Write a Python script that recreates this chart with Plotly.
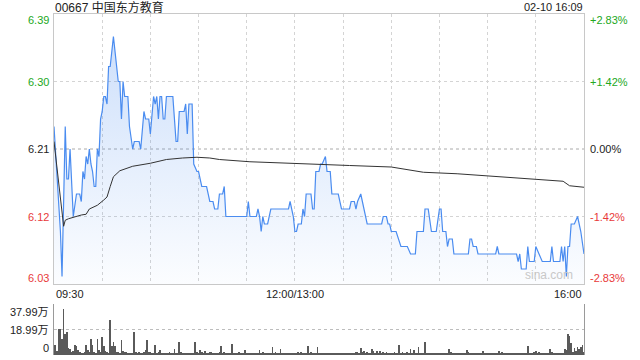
import plotly.graph_objects as go

# ---------------- data ----------------
title_text = "00667 中国东方教育"
stamp_text = "02-10 16:09"
prev_close = 6.21

price_ticks = [6.03, 6.12, 6.21, 6.30, 6.39]
price_tick_text = ["6.03", "6.12", "6.21", "6.30", "6.39"]
pct_tick_text = ["-2.83%", "-1.42%", "0.00%", "+1.42%", "+2.83%"]

time_tick_minutes = [0, 150, 330]
time_tick_labels = ["09:30", "12:00/13:00", "16:00"]
grid_minutes = [0, 30, 60, 90, 120, 150, 180, 210, 240, 270, 300, 330]

price_minutes = [0, 4, 5, 7, 8, 9, 10, 11, 12, 14, 16, 17, 18, 19, 20, 21, 22, 23, 24, 25,
                 26, 27, 28, 29, 30, 31, 32, 33, 34, 35, 37, 39, 40, 41, 42, 43, 44, 46, 47, 49,
                 50, 53, 54, 56, 57, 59, 60, 62, 63, 64, 65, 66, 67, 68, 69, 70, 74, 75, 76, 77,
                 78, 80, 81, 82, 83, 84, 86, 87, 89, 90, 91, 92, 95, 97, 99, 100, 102, 103, 105, 106,
                 107, 120, 121, 122, 126, 127, 128, 129, 130, 131, 133, 135, 146, 147, 149, 150, 151, 152, 154, 155,
                 156, 157, 160, 161, 162, 163, 165, 166, 167, 169, 170, 172, 173, 177, 179, 184, 185, 187, 188, 189,
                 191, 192, 195, 204, 205, 207, 208, 209, 210, 213, 216, 220, 222, 225, 226, 230, 231, 233, 235, 238,
                 240, 241, 242, 244, 245, 246, 248, 249, 258, 259, 260, 261, 263, 264, 275, 276, 277, 288, 289, 290,
                 291, 294, 295, 296, 299, 300, 302, 304, 309, 310, 311, 315, 316, 317, 318, 319, 320, 321, 322, 324,
                 326, 327, 328, 330]
price_values = [6.24, 6.10, 6.04, 6.24, 6.17, 6.17, 6.21, 6.17, 6.12, 6.15, 6.15, 6.14, 6.18, 6.17, 6.20, 6.19, 6.21, 6.19, 6.18, 6.16,
                6.16, 6.21, 6.20, 6.25, 6.26, 6.28, 6.28, 6.27, 6.32, 6.32, 6.36, 6.32, 6.30, 6.30, 6.25, 6.30, 6.28, 6.28, 6.24, 6.21,
                6.22, 6.22, 6.21, 6.26, 6.25, 6.25, 6.23, 6.28, 6.27, 6.28, 6.25, 6.28, 6.28, 6.25, 6.25, 6.28, 6.28, 6.25, 6.22, 6.22,
                6.26, 6.26, 6.26, 6.27, 6.23, 6.27, 6.27, 6.19, 6.18, 6.18, 6.17, 6.16, 6.16, 6.14, 6.14, 6.13, 6.13, 6.15, 6.15, 6.16,
                6.12, 6.12, 6.14, 6.12, 6.12, 6.13, 6.12, 6.10, 6.12, 6.11, 6.11, 6.13, 6.13, 6.14, 6.12, 6.10, 6.10, 6.11, 6.11, 6.13,
                6.12, 6.15, 6.15, 6.13, 6.13, 6.18, 6.18, 6.19, 6.19, 6.20, 6.18, 6.18, 6.15, 6.15, 6.13, 6.13, 6.14, 6.14, 6.13, 6.14,
                6.15, 6.14, 6.11, 6.11, 6.12, 6.12, 6.11, 6.11, 6.10, 6.10, 6.08, 6.08, 6.07, 6.07, 6.10, 6.10, 6.13, 6.13, 6.10, 6.10,
                6.13, 6.13, 6.10, 6.10, 6.08, 6.09, 6.09, 6.07, 6.07, 6.09, 6.09, 6.08, 6.08, 6.07, 6.07, 6.08, 6.07, 6.07, 6.06, 6.07,
                6.05, 6.05, 6.08, 6.06, 6.06, 6.08, 6.07, 6.06, 6.06, 6.08, 6.06, 6.06, 6.08, 6.06, 6.08, 6.04, 6.08, 6.08, 6.11, 6.11,
                6.12, 6.11, 6.10, 6.07]

avg_minutes = [0, 6, 7, 9, 17, 20, 22, 27, 31, 33, 35, 37, 41, 49, 60, 70, 80, 89, 97, 103,
               122, 154, 184, 210, 220, 230, 251, 272, 292, 317, 321, 330]
avg_values = [6.22, 6.107, 6.115, 6.117, 6.122, 6.123, 6.13, 6.135, 6.142, 6.146, 6.16, 6.173, 6.181, 6.187, 6.191, 6.196, 6.198, 6.199, 6.198, 6.196,
              6.193, 6.19, 6.188, 6.186, 6.182, 6.179, 6.177, 6.174, 6.171, 6.167, 6.161, 6.159]

# volume per minute, unit: 万 shares (minutes 0..330)
volume = [
    7.4, 7.8, 3.0, 19.4, 19.0, 11.9, 34.3, 15.7, 16.8, 5.0,
    4.5, 2.0, 3.0, 7.5, 6.5, 3.5, 2.0, 1.5, 1.0, 2.0,
    7.5, 3.5, 2.0, 11.9, 7.5, 2.0, 1.5, 11.9, 3.5, 2.5,
    13.4, 6.5, 3.0, 2.0, 1.5, 25.8, 6.5, 9.7, 6.5, 2.5,
    2.0, 1.5, 11.2, 3.0, 2.5, 2.5, 1.5, 1.5, 1.2, 1.5,
    16.8, 2.0, 1.5, 2.5, 1.5, 1.2, 2.0, 3.5, 11.2, 2.5,
    2.0, 1.5, 1.5, 7.5, 1.5, 2.5, 3.5, 1.2, 1.5, 1.0,
    0.8, 1.2, 2.5, 1.5, 1.5, 4.5, 1.5, 1.2, 10.0, 2.0,
    1.5, 1.0, 0.8, 1.5, 1.5, 1.0, 1.2, 1.0, 9.7, 2.5,
    1.5, 3.5, 2.0, 1.5, 3.0, 1.5, 1.5, 2.0, 2.5, 1.5,
    1.2, 1.5, 1.0, 2.0, 6.7, 1.5, 2.5, 1.2, 1.5, 1.5,
    1.0, 8.2, 1.2, 1.5, 1.5, 2.5, 1.0, 1.5, 1.2, 3.7,
    1.2, 1.5, 1.2, 1.0, 1.0, 0.8, 1.2, 1.5, 3.7, 1.2,
    2.5, 1.5, 1.0, 1.5, 1.2, 1.0, 5.7, 1.5, 2.5, 1.2,
    1.0, 4.2, 1.2, 1.0, 1.5, 1.5, 1.2, 0.8, 1.0, 1.5,
    1.2, 1.5, 2.0, 1.0, 2.5, 1.2, 1.0, 1.5, 6.7, 1.5,
    2.5, 1.2, 1.0, 1.5, 5.7, 1.2, 1.5, 1.2, 1.0, 1.5,
    0.8, 1.0, 1.2, 1.0, 1.0, 0.8, 1.2, 1.0, 0.8, 1.0,
    1.2, 1.0, 0.8, 1.2, 1.0, 1.2, 1.5, 1.2, 2.0, 2.5,
    1.5, 5.0, 2.0, 3.2, 1.2, 2.5, 1.5, 1.2, 4.2, 3.2,
    1.5, 3.2, 1.5, 3.2, 1.2, 2.5, 1.5, 2.5, 1.2, 1.5,
    1.2, 1.5, 2.5, 1.2, 1.5, 7.4, 1.5, 2.5, 1.2, 1.5,
    2.5, 1.2, 4.2, 1.5, 3.7, 1.2, 1.5, 5.7, 1.2, 1.5,
    1.0, 9.9, 1.2, 1.0, 1.2, 1.5, 1.0, 1.2, 1.5, 1.2,
    1.0, 1.2, 0.8, 1.0, 1.2, 1.0, 4.2, 2.5, 1.2, 1.0,
    1.2, 1.0, 1.5, 1.2, 1.0, 1.5, 1.2, 3.7, 2.0, 1.2,
    1.5, 1.0, 1.5, 1.2, 1.5, 1.0, 1.2, 3.2, 1.5, 1.0,
    0.8, 1.2, 1.5, 1.2, 1.5, 1.0, 1.2, 3.2, 1.5, 2.0,
    1.2, 1.0, 0.8, 1.2, 1.5, 1.2, 1.5, 1.2, 1.0, 1.5,
    1.2, 1.5, 1.0, 1.2, 1.0, 6.7, 1.5, 1.2, 1.5, 2.5,
    3.0, 1.5, 2.5, 1.2, 1.5, 1.2, 1.0, 1.5, 1.2, 4.2,
    2.5, 1.5, 1.2, 1.5, 1.2, 1.0, 1.2, 1.5, 4.7, 3.7,
    15.6, 14.0, 9.2, 2.5, 5.0, 3.2, 5.7, 4.2, 6.2, 7.4,
    2.0,
]
volume_minutes = list(range(len(volume)))
vol_ticks = [0, 18.99, 37.99]
vol_tick_text = ["0", "18.99万", "37.99万"]

# ---------------- styling ----------------
FONT = "Liberation Sans, Arial, Noto Sans CJK SC, sans-serif"
GREEN = "#22a822"
RED = "#e83a3a"
DARK = "#222222"
LINE_BLUE = "#4a8cf0"
GRID = "#d4d4d4"
BORDER = "#c8c8c8"

fig = go.Figure()

fig.add_trace(go.Scatter(
    x=price_minutes, y=price_values, mode="lines",
    line=dict(color=LINE_BLUE, width=1.2),
    fill="tozeroy",
    fillgradient=dict(type="vertical", start=6.03, stop=6.37,
                      colorscale=[[0, "rgba(74,140,240,0.02)"], [1, "rgba(74,140,240,0.28)"]]),
    hoverinfo="skip", showlegend=False, xaxis="x", yaxis="y"))

fig.add_trace(go.Scatter(
    x=avg_minutes, y=avg_values, mode="lines",
    line=dict(color="#333333", width=1),
    hoverinfo="skip", showlegend=False, xaxis="x", yaxis="y"))

fig.add_trace(go.Bar(
    x=volume_minutes, y=volume, width=0.45,
    marker=dict(color="#5a5a5a", line=dict(width=0)),
    hoverinfo="skip", showlegend=False, xaxis="x2", yaxis="y2"))

top_px, bot_px, H = 14, 5, 360
plot_h = H - top_px - bot_px
main_bottom = (355 - 284) / plot_h
vol_top = (355 - 304) / plot_h

fig.update_layout(
    width=640, height=360,
    margin=dict(l=54, r=56, t=top_px, b=bot_px),
    paper_bgcolor="white", plot_bgcolor="white",
    font=dict(family=FONT, size=11, color=DARK),
    bargap=0,
    xaxis=dict(domain=[0, 1], range=[0, 330], tickmode="array", tickvals=grid_minutes,
               showticklabels=False, ticks="", showgrid=True, gridcolor=GRID, griddash="dot",
               gridwidth=1, zeroline=False, showline=True, linecolor=BORDER, linewidth=1, mirror=True),
    yaxis=dict(domain=[main_bottom, 1], range=[price_ticks[0], price_ticks[-1]], tickmode="array",
               tickvals=price_ticks, showticklabels=False, ticks="", showgrid=True, gridcolor=GRID,
               griddash="dot", zeroline=False, showline=True, linecolor=BORDER, linewidth=1, mirror=True),
    xaxis2=dict(domain=[0, 1], range=[0, 330], anchor="y2", showticklabels=False, ticks="",
                showgrid=False, zeroline=False, showline=False),
    yaxis2=dict(domain=[0, vol_top], range=[0, vol_ticks[-1]], anchor="x2", tickmode="array",
                tickvals=vol_ticks[1:], showticklabels=False, ticks="", showgrid=True, gridcolor="#bdbdbd",
                griddash="dot", zeroline=False, showline=True, linecolor="#9a9a9a", linewidth=1, mirror=True),
)

# previous close reference line (darker)
fig.add_shape(type="line", xref="x", yref="y", x0=0, x1=330, y0=prev_close, y1=prev_close,
              line=dict(color="#aaaaaa", width=1, dash="dot"), layer="below")

annotations = []
n = len(price_ticks)
for k, (v, t, p) in enumerate(zip(price_ticks, price_tick_text, pct_tick_text)):
    if v > prev_close + 1e-9:
        col = GREEN
    elif v < prev_close - 1e-9:
        col = RED
    else:
        col = DARK
    ys = -6 if k == n - 1 else (6 if k == 0 else 0)
    annotations.append(dict(x=0, xref="paper", y=v, yref="y", text=t, showarrow=False,
                            xanchor="right", yanchor="middle", xshift=-3, yshift=ys,
                            font=dict(color=col, size=11, family=FONT)))
    annotations.append(dict(x=1, xref="paper", y=v, yref="y", text=p, showarrow=False,
                            xanchor="left", yanchor="middle", xshift=4, yshift=ys,
                            font=dict(color=col, size=11, family=FONT)))

anchors = ["left", "center", "right"]
for m, lab, a in zip(time_tick_minutes, time_tick_labels, anchors):
    annotations.append(dict(x=m, xref="x", y=price_ticks[0], yref="y", text=lab, showarrow=False,
                            xanchor=a, yanchor="top", yshift=-2,
                            font=dict(color=DARK, size=11, family=FONT)))

vshift = {0: 7, 1: 0, 2: -8}
for k, (v, t) in enumerate(zip(vol_ticks, vol_tick_text)):
    annotations.append(dict(x=0, xref="paper", y=v, yref="y2", text=t, showarrow=False,
                            xanchor="right", yanchor="middle", xshift=-3, yshift=vshift[k],
                            font=dict(color=DARK, size=11, family=FONT)))

annotations.append(dict(x=0, xref="paper", y=1, yref="paper", text=title_text, showarrow=False,
                        xanchor="left", yanchor="middle", yshift=7, borderpad=0,
                        font=dict(color=DARK, size=12, family=FONT)))
annotations.append(dict(x=1, xref="paper", y=1, yref="paper", text=stamp_text, showarrow=False,
                        xanchor="right", yanchor="middle", yshift=7, borderpad=0,
                        font=dict(color=DARK, size=11, family=FONT)))
annotations.append(dict(x=1, xref="paper", y=price_ticks[0], yref="y", text="sina.com", showarrow=False,
                        xanchor="right", yanchor="bottom", xshift=-9, yshift=0,
                        font=dict(color="#c8c8c8", size=12, family=FONT)))

fig.update_layout(annotations=annotations)

fig.write_html("out.html")
